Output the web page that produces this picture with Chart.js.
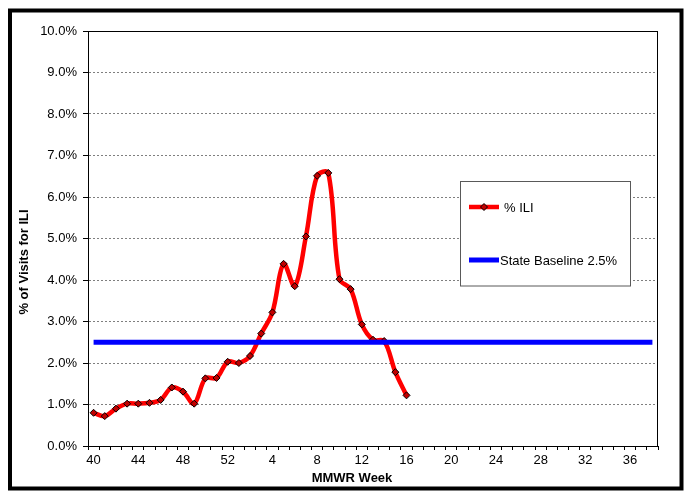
<!DOCTYPE html>
<html>
<head>
<meta charset="utf-8">
<script src="https://cdn.jsdelivr.net/npm/chart.js@4"></script>
<style>
html,body{margin:0;padding:0;background:#fff;}
#wrap{width:697px;height:500px;position:relative;}
</style>
</head>
<body>
<div id="wrap"><canvas id="c" width="697" height="500"></canvas></div>
<script>
// ---- data ----
const weeks = [40,41,42,43,44,45,46,47,48,49,50,51,52,1,2,3,4,5,6,7,8,9,10,11,12,13,14,15,16,17,18,19,20,21,22,23,24,25,26,27,28,29,30,31,32,33,34,35,36,37,38];
const iliValues = [0.80,0.72,0.90,1.02,1.02,1.04,1.11,1.41,1.31,1.02,1.63,1.64,2.03,2.00,2.17,2.71,3.22,4.39,3.85,5.05,6.51,6.58,4.02,3.78,2.93,2.56,2.53,1.78,1.22];
const baselineValue = 2.5;
const baselineValues = weeks.map(() => baselineValue);
const seriesNames = ['% ILI', 'State Baseline 2.5%'];
const yTickMin = 0, yTickMax = 10, yTickStep = 1;
const xTitle = 'MMWR Week';
const yTitle = '% of Visits for ILI';

const FONT = '"Liberation Sans", Arial, sans-serif';

const framePlugin = {
  id: 'frame',
  beforeDraw(chart) {
    const ctx = chart.ctx;
    ctx.save();
    ctx.fillStyle = '#fff';
    ctx.fillRect(0, 0, chart.width, chart.height);
    ctx.restore();
  },
  afterDraw(chart) {
    const ctx = chart.ctx;
    const a = chart.chartArea;
    ctx.save();
    // plot area border
    ctx.strokeStyle = '#000';
    ctx.lineWidth = 1;
    ctx.strokeRect(Math.round(a.left) + 0.5, Math.round(a.top) + 0.5, Math.round(a.right - a.left) - 1, Math.round(a.bottom - a.top));
    // outer frame
    ctx.lineWidth = 4;
    ctx.strokeRect(10, 10.5, 671.5, 478);
    // axis titles
    ctx.fillStyle = '#000';
    ctx.font = 'bold 13px ' + FONT;
    ctx.textAlign = 'center';
    ctx.textBaseline = 'middle';
    ctx.fillText(xTitle, 352, 478);
    ctx.translate(24, 262);
    ctx.rotate(-Math.PI / 2);
    ctx.fillText(yTitle, 0, 0);
    ctx.restore();

    // legend
    const ds = chart.data.datasets;
    ctx.save();
    ctx.fillStyle = '#fff';
    ctx.fillRect(460.5, 181.5, 170, 104.5);
    ctx.strokeStyle = '#595959';
    ctx.lineWidth = 1;
    ctx.strokeRect(460.5, 181.5, 170, 104.5);
    const rows = [207, 260];
    ds.forEach((d, i) => {
      const y = rows[i];
      ctx.strokeStyle = d.borderColor;
      ctx.lineWidth = d.borderWidth;
      ctx.beginPath();
      ctx.moveTo(469, y);
      ctx.lineTo(499, y);
      ctx.stroke();
      if (d.pointRadius > 0) {
        ctx.fillStyle = d.pointBackgroundColor;
        ctx.strokeStyle = d.pointBorderColor;
        ctx.lineWidth = 1;
        ctx.beginPath();
        const r = d.pointRadius;
        ctx.moveTo(484, y - r); ctx.lineTo(484 + r, y); ctx.lineTo(484, y + r); ctx.lineTo(484 - r, y); ctx.closePath();
        ctx.fill(); ctx.stroke();
      }
      ctx.fillStyle = '#000';
      ctx.font = '13px ' + FONT;
      ctx.textAlign = 'left';
      ctx.textBaseline = 'middle';
      ctx.fillText(d.label, i === 0 ? 504 : 500, y + 1);
    });
    ctx.restore();
  }
};

new Chart(document.getElementById('c'), {
  type: 'line',
  data: {
    labels: weeks,
    datasets: [
      {
        label: seriesNames[0],
        data: iliValues,
        borderColor: '#ff0000',
        borderWidth: 4.5,
        tension: 0.35,
        pointStyle: 'rectRot',
        pointRadius: 3.5,
        pointBackgroundColor: '#c00000',
        pointBorderColor: '#000',
        pointBorderWidth: 1,
        order: 1,
        spanGaps: false
      },
      {
        label: seriesNames[1],
        data: baselineValues,
        borderColor: '#0000ff',
        borderWidth: 5,
        pointRadius: 0,
        tension: 0,
        order: 0
      }
    ]
  },
  options: {
    responsive: false,
    animation: false,
    devicePixelRatio: 1,
    layout: { padding: { left: 0, right: 39, top: 31, bottom: 0 } },
    plugins: { legend: { display: false }, tooltip: { enabled: false } },
    scales: {
      x: {
        type: 'category',
        offset: true,
        afterFit(s) { s.height = 54; },
        grid: { display: true, drawOnChartArea: false, drawTicks: true, tickLength: 4, tickColor: '#000', tickWidth: 1, offset: true },
        border: { display: true, color: '#000', width: 1 },
        ticks: {
          autoSkip: false, maxRotation: 0, padding: 3, color: '#000',
          font: { family: FONT, size: 13 },
          callback(v, i) { return i % 4 === 0 ? String(weeks[i]) : ''; }
        },
        title: { display: false }
      },
      y: {
        min: yTickMin, max: yTickMax,
        afterFit(s) { s.width = 88; },
        grid: { color: '#7f7f7f', lineWidth: 1, tickLength: 5, tickColor: '#000', tickBorderDash: [], drawTicks: true },
        border: { display: true, color: '#000', width: 1, dash: [2, 2] },
        ticks: {
          stepSize: yTickStep, padding: 6, color: '#000',
          font: { family: FONT, size: 13 },
          callback(v) { return v.toFixed(1) + '%'; }
        },
        title: { display: false }
      }
    }
  },
  plugins: [framePlugin]
});
</script>
</body>
</html>
